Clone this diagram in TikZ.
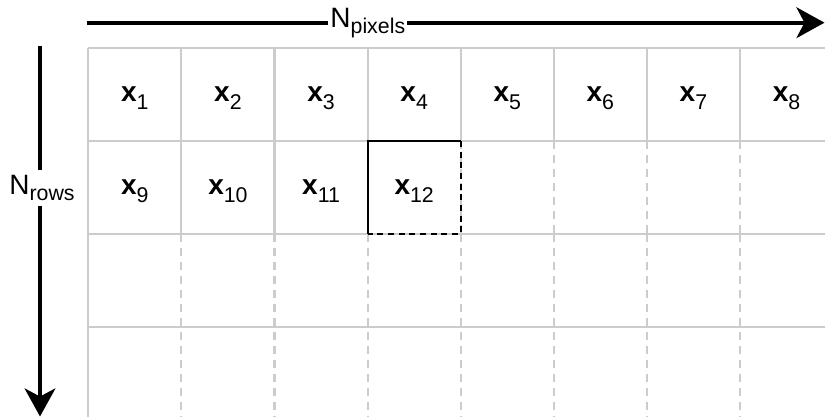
\documentclass[tikz,border=0pt]{standalone}
\usepackage{fontspec}
\setmainfont{Liberation Sans}
\usetikzlibrary{arrows.meta,positioning}
\definecolor{cGrid}{HTML}{CCCCCC}
\tikzset{
  gline/.style   = {draw=cGrid, line width=1.6pt},
  gdash/.style   = {gline, dash pattern=on 6pt off 4.5pt},
  sel/.style     = {draw=black, line width=1.5pt},
  seldash/.style = {sel, dash pattern=on 4.5pt off 3.5pt},
  axis/.style    = {-{Stealth[length=21pt,width=23pt,inset=6pt]}, line width=3pt},
  lab/.style     = {fill=white, inner xsep=1.5pt, inner ysep=4pt, font=\fontsize{21}{24}\selectfont},
  cell/.style    = {inner sep=0pt, anchor=base, font=\fontsize{21}{24}\selectfont},
}
\newcommand{\lowsub}[3][-4.5pt]{#2\raisebox{#1}{\fontsize{16}{17}\selectfont #3}}

\begin{document}
\begin{tikzpicture}[x=0.75pt, y=-0.75pt]
  \useasboundingbox (0,0) rectangle (825,417);

  % grid
  \begin{scope}
    \clip (0,0) rectangle (825,417);
    \foreach \j in {0,...,3}
      \draw[gline] (88.3,{47.7+93.2*\j}) -- (830,{47.7+93.2*\j});
    \draw[gline] (88.3,47.7) -- (88.3,420);
    \foreach \i in {1,...,7} {
      \draw[gline] ({88.3+93.1*\i},47.7) -- ++(0,93.2);
      \draw[gdash] ({88.3+93.1*\i},234.1) -- ({88.3+93.1*\i},420);
    }
    \foreach \i in {1,2,3}
      \draw[gline] ({88.3+93.1*\i},140.9) -- ++(0,93.2);
    \foreach \i in {4,...,7}
      \draw[gdash] ({88.3+93.1*\i},140.9) -- ++(0,93.2);
  \end{scope}

  \foreach \i in {1,...,12} {
    \pgfmathtruncatemacro\col{mod(\i-1,8)}
    \pgfmathtruncatemacro\row{div(\i-1,8)}
    \node[cell] (c\i) at ({88.3+93.1*(\col+0.5)},{47.7+93.2*(\row+0.5)+7.3}) {\lowsub[-6pt]{\textbf{x}}{\i}};
  }

  % frame of x12
  \coordinate (f12sw) at (367.6,234.1);
  \coordinate (f12ne) at (460.7,140.9);
  \draw[sel] (f12sw) |- (f12ne);
  \draw[seldash] (f12ne) |- (f12sw);

  % axes
  \coordinate (pixfrom) at (86.7,22.7);
  \coordinate (pixto) at (824.5,22.7);
  \coordinate (rowfrom) at (40,46);
  \coordinate (rowto) at (40,416.5);
  \draw[axis] (pixfrom) -- node[lab, pos=0.381] (npix) {\lowsub{N}{pixels}} (pixto);
  \draw[axis] (rowfrom) -- node[lab, pos=0.384, xshift=1.5pt] (nrow) {\lowsub{N}{rows}} (rowto);
\end{tikzpicture}
\end{document}
